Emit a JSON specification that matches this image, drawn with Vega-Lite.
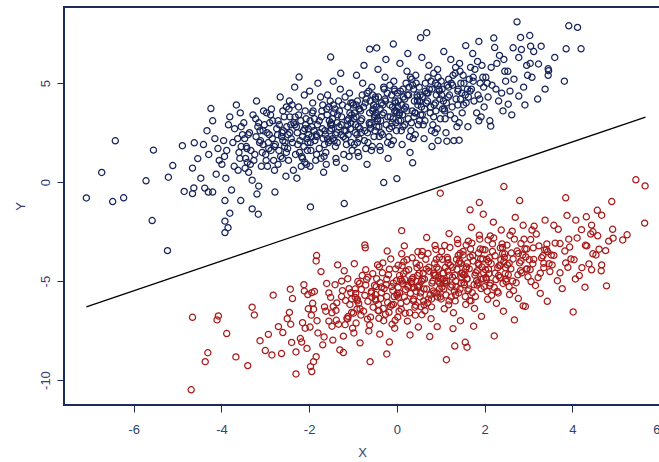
{
"$schema": "https://vega.github.io/schema/vega-lite/v6.json",
"width": 596,
"height": 398,
"autosize": "none",
"padding": {"left": 64, "top": 7, "right": 0, "bottom": 57},
"background": "white",
"datasets": {
"blue": [
{"x":-4.41,"y":1.9},{"x":-4.12,"y":0.4},{"x":-4.33,"y":2.6},{"x":-4.05,"y":1.1},{"x":-4.47,"y":0.2},{"x":-4.2,"y":3.1},{"x":-4.08,"y":1.7},{"x":-4.38,"y":-0.3},{"x":-4.15,"y":2.2},{"x":-4.29,"y":1.4},
{"x":-3.95,"y":2.1},{"x":-3.62,"y":0.6},{"x":-3.81,"y":3.3},{"x":-3.55,"y":1.8},{"x":-3.9,"y":0.2},{"x":-3.7,"y":2.7},{"x":-3.58,"y":1.2},{"x":-3.88,"y":1.6},{"x":-3.66,"y":3.9},{"x":-3.99,"y":0.9},{"x":-3.52,"y":2.4},{"x":-3.77,"y":-0.4},{"x":-3.6,"y":1.5},{"x":-3.84,"y":2.9},{"x":-3.71,"y":0.8},{"x":-3.93,"y":1.3},{"x":-3.57,"y":3.5},{"x":-3.74,"y":2.0},
{"x":-3.45,"y":1.2},{"x":-3.12,"y":2.6},{"x":-3.38,"y":0.5},{"x":-3.05,"y":1.9},{"x":-3.28,"y":3.4},{"x":-3.47,"y":2.2},{"x":-3.15,"y":-0.2},{"x":-3.33,"y":1.6},{"x":-3.02,"y":2.9},{"x":-3.41,"y":1.0},{"x":-3.2,"y":4.1},{"x":-3.09,"y":0.8},{"x":-3.36,"y":2.5},{"x":-3.24,"y":1.4},{"x":-3.49,"y":3.0},{"x":-3.11,"y":2.1},{"x":-3.3,"y":0.1},{"x":-3.04,"y":3.6},{"x":-3.43,"y":1.8},{"x":-3.17,"y":2.8},{"x":-3.26,"y":1.1},{"x":-3.39,"y":2.4},{"x":-3.07,"y":1.5},{"x":-3.22,"y":3.2},{"x":-3.46,"y":0.7},{"x":-3.13,"y":2.0},
{"x":-2.96,"y":2.5},{"x":-2.61,"y":1.2},{"x":-2.88,"y":3.4},{"x":-2.55,"y":2.0},{"x":-2.79,"y":0.6},{"x":-2.68,"y":2.9},{"x":-2.92,"y":1.7},{"x":-2.52,"y":3.8},{"x":-2.84,"y":2.2},{"x":-2.71,"y":0.9},{"x":-2.59,"y":2.6},{"x":-2.99,"y":1.4},{"x":-2.66,"y":4.3},{"x":-2.77,"y":1.9},{"x":-2.53,"y":0.3},{"x":-2.9,"y":3.0},{"x":-2.63,"y":2.3},{"x":-2.81,"y":1.1},{"x":-2.57,"y":3.3},{"x":-2.74,"y":2.7},{"x":-2.95,"y":0.8},{"x":-2.69,"y":1.6},{"x":-2.86,"y":3.7},{"x":-2.6,"y":2.1},{"x":-2.78,"y":-0.5},{"x":-2.51,"y":2.8},{"x":-2.93,"y":2.0},{"x":-2.65,"y":1.3},{"x":-2.83,"y":3.1},{"x":-2.56,"y":1.8},{"x":-2.72,"y":2.4},{"x":-2.97,"y":3.5},
{"x":-2.31,"y":1.4},{"x":-2.07,"y":3.2},{"x":-2.44,"y":2.5},{"x":-2.18,"y":0.8},{"x":-2.02,"y":2.7},{"x":-2.39,"y":3.9},{"x":-2.26,"y":1.9},{"x":-2.11,"y":4.4},{"x":-2.47,"y":1.1},{"x":-2.15,"y":2.3},{"x":-2.35,"y":3.0},{"x":-2.04,"y":1.6},{"x":-2.28,"y":0.2},{"x":-2.42,"y":2.9},{"x":-2.09,"y":3.6},{"x":-2.21,"y":2.1},{"x":-2.49,"y":1.7},{"x":-2.13,"y":2.6},{"x":-2.33,"y":4.8},{"x":-2.06,"y":0.9},{"x":-2.38,"y":2.0},{"x":-2.24,"y":3.4},{"x":-2.01,"y":2.4},{"x":-2.46,"y":3.7},{"x":-2.17,"y":1.3},{"x":-2.29,"y":2.8},{"x":-2.1,"y":1.0},{"x":-2.41,"y":2.2},{"x":-2.19,"y":3.1},{"x":-2.36,"y":0.6},{"x":-2.03,"y":2.0},{"x":-2.27,"y":2.5},{"x":-2.45,"y":4.1},{"x":-2.12,"y":1.8},{"x":-2.32,"y":3.3},{"x":-2.08,"y":2.9},{"x":-2.22,"y":1.5},{"x":-2.48,"y":2.4},
{"x":-1.58,"y":2.2},{"x":-1.93,"y":3.5},{"x":-1.66,"y":1.3},{"x":-1.81,"y":2.9},{"x":-1.52,"y":4.1},{"x":-1.97,"y":2.0},{"x":-1.72,"y":3.3},{"x":-1.61,"y":0.9},{"x":-1.89,"y":2.6},{"x":-1.55,"y":3.8},{"x":-1.77,"y":1.7},{"x":-1.99,"y":4.6},{"x":-1.63,"y":2.4},{"x":-1.85,"y":1.1},{"x":-1.54,"y":3.1},{"x":-1.7,"y":2.7},{"x":-1.91,"y":3.6},{"x":-1.67,"y":0.5},{"x":-1.83,"y":2.3},{"x":-1.51,"y":2.9},{"x":-1.96,"y":1.6},{"x":-1.74,"y":4.3},{"x":-1.59,"y":3.4},{"x":-1.87,"y":2.1},{"x":-1.65,"y":1.9},{"x":-1.8,"y":5.0},{"x":-1.53,"y":2.6},{"x":-1.94,"y":2.8},{"x":-1.69,"y":3.9},{"x":-1.62,"y":1.5},{"x":-1.88,"y":3.2},{"x":-1.56,"y":2.0},{"x":-1.76,"y":2.5},{"x":-1.98,"y":0.8},{"x":-1.6,"y":3.7},{"x":-1.84,"y":2.4},{"x":-1.73,"y":1.2},{"x":-1.5,"y":3.0},{"x":-1.92,"y":4.0},{"x":-1.68,"y":2.2},
{"x":-1.07,"y":3.5},{"x":-1.43,"y":2.1},{"x":-1.18,"y":4.3},{"x":-1.32,"y":2.8},{"x":-1.02,"y":1.6},{"x":-1.47,"y":3.2},{"x":-1.24,"y":3.9},{"x":-1.11,"y":2.4},{"x":-1.38,"y":1.0},{"x":-1.05,"y":3.0},{"x":-1.29,"y":4.7},{"x":-1.49,"y":2.7},{"x":-1.15,"y":1.9},{"x":-1.35,"y":3.4},{"x":-1.01,"y":4.0},{"x":-1.22,"y":2.3},{"x":-1.41,"y":3.7},{"x":-1.09,"y":1.3},{"x":-1.27,"y":2.9},{"x":-1.45,"y":5.1},{"x":-1.13,"y":3.1},{"x":-1.37,"y":2.5},{"x":-1.04,"y":2.0},{"x":-1.31,"y":3.6},{"x":-1.19,"y":0.7},{"x":-1.46,"y":2.2},{"x":-1.08,"y":4.5},{"x":-1.26,"y":3.3},{"x":-1.4,"y":1.8},{"x":-1.16,"y":2.6},{"x":-1.33,"y":4.1},{"x":-1.03,"y":3.4},{"x":-1.48,"y":2.9},{"x":-1.21,"y":1.4},{"x":-1.12,"y":3.8},{"x":-1.36,"y":2.0},{"x":-1.06,"y":2.7},{"x":-1.44,"y":3.5},{"x":-1.28,"y":5.5},{"x":-1.17,"y":2.2},{"x":-1.39,"y":1.2},{"x":-1.1,"y":3.2},
{"x":-0.53,"y":3.9},{"x":-0.91,"y":2.4},{"x":-0.64,"y":4.6},{"x":-0.82,"y":3.1},{"x":-0.56,"y":1.8},{"x":-0.97,"y":3.5},{"x":-0.7,"y":4.2},{"x":-0.6,"y":2.7},{"x":-0.87,"y":1.3},{"x":-0.51,"y":3.3},{"x":-0.78,"y":5.0},{"x":-0.94,"y":2.9},{"x":-0.66,"y":2.0},{"x":-0.85,"y":3.7},{"x":-0.55,"y":4.4},{"x":-0.73,"y":2.6},{"x":-0.99,"y":3.9},{"x":-0.58,"y":1.6},{"x":-0.8,"y":3.2},{"x":-0.92,"y":5.4},{"x":-0.62,"y":3.5},{"x":-0.88,"y":2.8},{"x":-0.52,"y":2.3},{"x":-0.76,"y":3.8},{"x":-0.68,"y":0.9},{"x":-0.95,"y":2.5},{"x":-0.57,"y":4.8},{"x":-0.83,"y":3.6},{"x":-0.9,"y":2.0},{"x":-0.63,"y":3.0},{"x":-0.79,"y":4.4},{"x":-0.54,"y":3.7},{"x":-0.98,"y":3.2},{"x":-0.71,"y":1.7},{"x":-0.61,"y":4.1},{"x":-0.86,"y":2.2},{"x":-0.59,"y":3.0},{"x":-0.93,"y":3.9},{"x":-0.75,"y":5.9},{"x":-0.67,"y":2.5},{"x":-0.89,"y":1.5},{"x":-0.5,"y":3.4},{"x":-0.72,"y":4.0},{"x":-0.84,"y":2.7},
{"x":-0.04,"y":4.1},{"x":-0.41,"y":2.8},{"x":-0.16,"y":4.9},{"x":-0.33,"y":3.4},{"x":-0.08,"y":2.1},{"x":-0.47,"y":3.8},{"x":-0.22,"y":4.5},{"x":-0.11,"y":3.0},{"x":-0.38,"y":1.6},{"x":-0.02,"y":3.6},{"x":-0.27,"y":5.3},{"x":-0.44,"y":3.2},{"x":-0.18,"y":2.3},{"x":-0.35,"y":4.0},{"x":-0.06,"y":4.7},{"x":-0.24,"y":2.9},{"x":-0.49,"y":4.2},{"x":-0.13,"y":1.9},{"x":-0.3,"y":3.5},{"x":-0.43,"y":5.7},{"x":-0.1,"y":3.8},{"x":-0.37,"y":3.1},{"x":-0.01,"y":2.6},{"x":-0.26,"y":4.1},{"x":-0.2,"y":1.2},{"x":-0.46,"y":2.8},{"x":-0.07,"y":5.1},{"x":-0.32,"y":3.9},{"x":-0.4,"y":2.3},{"x":-0.15,"y":3.3},{"x":-0.29,"y":4.7},{"x":-0.03,"y":4.0},{"x":-0.48,"y":3.5},{"x":-0.21,"y":2.0},{"x":-0.12,"y":4.4},{"x":-0.36,"y":2.5},{"x":-0.09,"y":3.2},{"x":-0.42,"y":4.3},{"x":-0.25,"y":6.2},{"x":-0.17,"y":2.7},{"x":-0.39,"y":1.8},{"x":-0.05,"y":3.6},
{"x":0.46,"y":4.4},{"x":0.09,"y":3.1},{"x":0.34,"y":5.2},{"x":0.17,"y":3.7},{"x":0.42,"y":2.4},{"x":0.03,"y":4.1},{"x":0.28,"y":4.8},{"x":0.39,"y":3.3},{"x":0.12,"y":1.9},{"x":0.48,"y":3.9},{"x":0.23,"y":5.6},{"x":0.06,"y":3.5},{"x":0.32,"y":2.6},{"x":0.15,"y":4.3},{"x":0.44,"y":5.0},{"x":0.26,"y":3.2},{"x":0.01,"y":4.5},{"x":0.37,"y":2.2},{"x":0.2,"y":3.8},{"x":0.07,"y":6.0},{"x":0.4,"y":4.1},{"x":0.13,"y":3.4},{"x":0.49,"y":2.9},{"x":0.24,"y":4.4},{"x":0.3,"y":1.5},{"x":0.04,"y":3.1},{"x":0.43,"y":5.4},{"x":0.18,"y":4.2},{"x":0.1,"y":2.6},{"x":0.35,"y":3.6},{"x":0.21,"y":5.0},{"x":0.47,"y":4.3},{"x":0.02,"y":3.8},{"x":0.29,"y":2.3},{"x":0.38,"y":4.7},{"x":0.14,"y":2.8},{"x":0.41,"y":3.5},{"x":0.08,"y":4.6},{"x":0.25,"y":6.5},{"x":0.33,"y":3.0},
{"x":0.96,"y":4.7},{"x":0.58,"y":3.4},{"x":0.84,"y":5.5},{"x":0.67,"y":4.0},{"x":0.92,"y":2.7},{"x":0.53,"y":4.4},{"x":0.78,"y":5.1},{"x":0.89,"y":3.6},{"x":0.62,"y":2.2},{"x":0.98,"y":4.2},{"x":0.73,"y":5.9},{"x":0.56,"y":3.8},{"x":0.82,"y":2.9},{"x":0.65,"y":4.6},{"x":0.94,"y":5.3},{"x":0.76,"y":3.5},{"x":0.51,"y":4.8},{"x":0.87,"y":2.5},{"x":0.7,"y":4.1},{"x":0.57,"y":6.3},{"x":0.9,"y":4.4},{"x":0.63,"y":3.7},{"x":0.99,"y":3.2},{"x":0.74,"y":4.7},{"x":0.8,"y":1.8},{"x":0.54,"y":3.4},{"x":0.93,"y":5.7},{"x":0.68,"y":4.5},{"x":0.6,"y":2.9},{"x":0.85,"y":3.9},{"x":0.71,"y":5.3},{"x":0.97,"y":4.6},{"x":0.52,"y":4.1},{"x":0.79,"y":2.6},{"x":0.88,"y":5.0},{"x":0.64,"y":3.1},
{"x":1.46,"y":5.0},{"x":1.08,"y":3.7},{"x":1.34,"y":5.8},{"x":1.17,"y":4.3},{"x":1.42,"y":3.0},{"x":1.03,"y":4.7},{"x":1.28,"y":5.4},{"x":1.39,"y":3.9},{"x":1.12,"y":2.5},{"x":1.48,"y":4.5},{"x":1.23,"y":6.2},{"x":1.06,"y":4.1},{"x":1.32,"y":3.2},{"x":1.15,"y":4.9},{"x":1.44,"y":5.6},{"x":1.26,"y":3.8},{"x":1.01,"y":5.1},{"x":1.37,"y":2.8},{"x":1.2,"y":4.4},{"x":1.07,"y":6.6},{"x":1.4,"y":4.7},{"x":1.13,"y":4.0},{"x":1.49,"y":3.5},{"x":1.24,"y":5.0},{"x":1.3,"y":2.1},{"x":1.04,"y":3.7},{"x":1.43,"y":6.0},{"x":1.18,"y":4.8},{"x":1.1,"y":3.2},{"x":1.35,"y":4.2},
{"x":1.96,"y":5.3},{"x":1.58,"y":4.0},{"x":1.84,"y":6.1},{"x":1.67,"y":4.6},{"x":1.92,"y":3.3},{"x":1.53,"y":5.0},{"x":1.78,"y":5.7},{"x":1.89,"y":4.2},{"x":1.62,"y":2.8},{"x":1.98,"y":4.8},{"x":1.73,"y":6.5},{"x":1.56,"y":4.4},{"x":1.82,"y":3.5},{"x":1.65,"y":5.2},{"x":1.94,"y":5.9},{"x":1.76,"y":4.1},{"x":1.51,"y":5.4},{"x":1.87,"y":3.1},{"x":1.7,"y":4.7},{"x":1.57,"y":6.9},{"x":1.9,"y":5.0},{"x":1.63,"y":4.3},{"x":1.99,"y":3.8},{"x":1.74,"y":5.3},
{"x":2.46,"y":5.6},{"x":2.08,"y":4.3},{"x":2.34,"y":6.4},{"x":2.17,"y":4.9},{"x":2.42,"y":3.6},{"x":2.03,"y":5.3},{"x":2.28,"y":6.0},{"x":2.39,"y":4.5},{"x":2.12,"y":3.1},{"x":2.48,"y":5.1},{"x":2.23,"y":6.8},{"x":2.06,"y":5.0},{"x":2.32,"y":4.1},{"x":2.15,"y":5.8},{"x":2.44,"y":6.2},{"x":2.26,"y":4.7},
{"x":2.96,"y":5.9},{"x":2.58,"y":4.6},{"x":2.84,"y":6.7},{"x":2.67,"y":5.2},{"x":2.92,"y":3.9},{"x":2.53,"y":5.6},{"x":2.78,"y":6.3},{"x":2.89,"y":4.8},{"x":2.62,"y":3.4},{"x":2.98,"y":5.4},
{"x":3.04,"y":6.0},{"x":3.38,"y":4.7},{"x":3.12,"y":6.6},{"x":3.45,"y":5.4},{"x":3.21,"y":4.2},{"x":3.08,"y":5.3},{"x":3.6,"y":6.3},{"x":3.82,"y":5.1},
{"x":-2.87,"y":1.6},{"x":-2.44,"y":3.3},{"x":-2.62,"y":2.5},{"x":-2.15,"y":1.2},{"x":-2.33,"y":2.9},{"x":-2.71,"y":3.1},{"x":-2.05,"y":2.2},{"x":-2.52,"y":1.5},{"x":-2.91,"y":2.4},{"x":-2.24,"y":3.8},
{"x":-1.94,"y":2.3},{"x":-1.71,"y":3.6},{"x":-1.52,"y":2.1},{"x":-1.83,"y":1.4},{"x":-1.36,"y":3.0},{"x":-1.64,"y":2.6},{"x":-1.45,"y":3.9},{"x":-1.98,"y":3.1},{"x":-1.27,"y":2.4},{"x":-1.58,"y":4.4},
{"x":-1.12,"y":2.9},{"x":-0.93,"y":3.3},{"x":-0.74,"y":2.1},{"x":-1.05,"y":4.0},{"x":-0.86,"y":3.7},{"x":-0.62,"y":2.9},{"x":-0.97,"y":1.9},{"x":-0.68,"y":4.5},{"x":-0.81,"y":2.5},{"x":-0.55,"y":3.6},
{"x":-0.44,"y":3.1},{"x":-0.27,"y":4.2},{"x":-0.12,"y":2.8},{"x":-0.38,"y":3.7},{"x":-0.21,"y":3.3},{"x":-0.05,"y":4.6},{"x":-0.33,"y":2.4},{"x":-0.16,"y":3.9},{"x":-0.49,"y":4.3},{"x":-0.02,"y":3.0},
{"x":0.11,"y":3.9},{"x":0.27,"y":4.4},{"x":0.42,"y":3.5},{"x":0.18,"y":2.9},{"x":0.36,"y":4.9},{"x":0.05,"y":3.4},{"x":0.47,"y":4.1},{"x":0.23,"y":3.6},{"x":0.31,"y":5.3},{"x":0.14,"y":4.7},
{"x":0.58,"y":4.3},{"x":0.77,"y":3.8},{"x":0.93,"y":4.9},{"x":0.65,"y":5.0},{"x":0.84,"y":3.3},{"x":1.02,"y":4.4},{"x":0.71,"y":4.5},{"x":1.18,"y":5.2},{"x":0.88,"y":4.0},{"x":1.09,"y":3.6},
{"x":1.27,"y":4.9},{"x":1.45,"y":4.2},{"x":1.33,"y":5.5},{"x":1.61,"y":4.7},{"x":1.52,"y":3.9},{"x":1.74,"y":5.1},{"x":1.22,"y":3.4},{"x":1.68,"y":5.8},{"x":1.85,"y":4.4},{"x":1.39,"y":4.6},
{"x":-3.21,"y":2.3},{"x":-3.42,"y":1.7},{"x":-3.05,"y":2.6},{"x":-3.63,"y":2.2},{"x":-3.34,"y":0.9},{"x":-2.98,"y":1.1},{"x":-3.15,"y":3.0},{"x":-3.55,"y":2.8},{"x":-2.79,"y":1.8},{"x":-2.6,"y":3.6},
{"x":-1.77,"y":3.1},{"x":-1.2,"y":2.6},{"x":-0.5,"y":2.6},{"x":0.0,"y":3.5},{"x":0.52,"y":3.1},{"x":-0.9,"y":4.1},{"x":-1.4,"y":2.4},{"x":-2.1,"y":2.7},{"x":0.8,"y":4.7},{"x":-0.3,"y":4.8},
{"x":-7.08,"y":-0.8},{"x":-6.73,"y":0.49},{"x":-6.48,"y":-0.98},{"x":-6.23,"y":-0.79},{"x":-6.42,"y":2.09},{"x":-5.58,"y":-1.94},{"x":-5.72,"y":0.07},{"x":-5.55,"y":1.62},{"x":-5.23,"y":-3.46},{"x":-5.21,"y":0.25},{"x":-5.11,"y":0.84},{"x":-4.89,"y":1.84},{"x":-4.85,"y":-0.47},{"x":-4.66,"y":-0.58},{"x":-4.63,"y":-0.29},{"x":-4.66,"y":0.71},{"x":-4.62,"y":1.99},{"x":-4.24,"y":3.72},{"x":-4.54,"y":1.19},{"x":-4.3,"y":-0.5},{"x":-4.2,"y":-0.5},{"x":-3.92,"y":-0.93},{"x":-3.81,"y":-1.57},{"x":-3.92,"y":-1.97},{"x":-3.85,"y":-2.3},{"x":-3.92,"y":-2.55},{"x":-3.56,"y":-0.93},{"x":-3.3,"y":-1.35},{"x":-3.16,"y":-1.62},{"x":-3.19,"y":-0.6},
{"x":2.74,"y":8.1},{"x":3.92,"y":7.9},{"x":4.12,"y":7.82},{"x":3.86,"y":6.74},{"x":4.2,"y":6.74},{"x":2.82,"y":7.31},{"x":3.03,"y":7.41},{"x":2.21,"y":7.28},{"x":1.87,"y":7.11},{"x":3.23,"y":5.97},{"x":3.45,"y":5.73},{"x":3.46,"y":5.63},{"x":3.29,"y":6.87},{"x":3.05,"y":6.87},{"x":2.65,"y":6.79},{"x":2.14,"y":2.83},{"x":1.42,"y":2.12},{"x":1.14,"y":2.07},{"x":2.54,"y":3.94},{"x":2.78,"y":4.35},{"x":0.68,"y":7.55},{"x":0.54,"y":7.3},{"x":-0.08,"y":6.98},{"x":-0.62,"y":6.72},{"x":-0.46,"y":6.78},{"x":-1.51,"y":6.32},{"x":-2.23,"y":5.31},{"x":-1.97,"y":-1.25},{"x":-1.2,"y":-1.08},{"x":-0.3,"y":-0.02},{"x":0.0,"y":0.18},{"x":0.36,"y":0.98},{"x":0.94,"y":2.1}
],
"red": [
{"x":-2.09,"y":-7.38},{"x":-2.38,"y":-5.88},{"x":-2.17,"y":-8.08},{"x":-2.45,"y":-6.58},{"x":-2.03,"y":-5.68},{"x":-2.3,"y":-8.58},{"x":-2.42,"y":-7.18},{"x":-2.12,"y":-5.18},
{"x":-1.55,"y":-7.02},{"x":-1.88,"y":-5.52},{"x":-1.69,"y":-8.22},{"x":-1.95,"y":-6.72},{"x":-1.6,"y":-5.12},{"x":-1.8,"y":-7.62},{"x":-1.92,"y":-6.12},{"x":-1.62,"y":-6.52},{"x":-1.84,"y":-8.82},{"x":-1.51,"y":-5.82},{"x":-1.98,"y":-7.32},{"x":-1.73,"y":-4.52},{"x":-1.9,"y":-6.42},{"x":-1.66,"y":-7.82},
{"x":-1.05,"y":-5.58},{"x":-1.38,"y":-6.98},{"x":-1.12,"y":-4.88},{"x":-1.45,"y":-6.28},{"x":-1.22,"y":-7.78},{"x":-1.03,"y":-6.58},{"x":-1.35,"y":-4.18},{"x":-1.17,"y":-5.98},{"x":-1.48,"y":-7.28},{"x":-1.09,"y":-5.38},{"x":-1.3,"y":-8.48},{"x":-1.41,"y":-5.18},{"x":-1.14,"y":-6.88},{"x":-1.26,"y":-5.78},{"x":-1.01,"y":-7.38},{"x":-1.39,"y":-6.48},{"x":-1.2,"y":-4.48},{"x":-1.46,"y":-7.98},{"x":-1.07,"y":-6.18},{"x":-1.33,"y":-7.18},{"x":-1.24,"y":-5.48},{"x":-1.11,"y":-6.78},
{"x":-0.54,"y":-6.32},{"x":-0.89,"y":-5.02},{"x":-0.62,"y":-7.22},{"x":-0.95,"y":-5.82},{"x":-0.71,"y":-4.42},{"x":-0.82,"y":-6.72},{"x":-0.58,"y":-5.52},{"x":-0.98,"y":-7.62},{"x":-0.66,"y":-6.02},{"x":-0.79,"y":-4.72},{"x":-0.91,"y":-6.42},{"x":-0.51,"y":-5.22},{"x":-0.84,"y":-8.12},{"x":-0.73,"y":-5.72},{"x":-0.97,"y":-4.12},{"x":-0.6,"y":-6.82},{"x":-0.87,"y":-6.12},{"x":-0.69,"y":-4.92},{"x":-0.93,"y":-7.12},{"x":-0.76,"y":-6.52},{"x":-0.55,"y":-4.62},{"x":-0.81,"y":-5.42},{"x":-0.64,"y":-7.52},{"x":-0.9,"y":-5.92},{"x":-0.72,"y":-3.32},{"x":-0.99,"y":-6.62},{"x":-0.57,"y":-5.82},{"x":-0.85,"y":-5.12},{"x":-0.67,"y":-6.92},{"x":-0.94,"y":-5.62},
{"x":-0.19,"y":-4.68},{"x":-0.43,"y":-6.48},{"x":-0.06,"y":-5.78},{"x":-0.32,"y":-4.08},{"x":-0.48,"y":-5.98},{"x":-0.11,"y":-7.18},{"x":-0.24,"y":-5.18},{"x":-0.39,"y":-7.68},{"x":-0.03,"y":-4.38},{"x":-0.35,"y":-5.58},{"x":-0.15,"y":-6.28},{"x":-0.46,"y":-4.88},{"x":-0.22,"y":-3.48},{"x":-0.08,"y":-6.18},{"x":-0.41,"y":-6.88},{"x":-0.29,"y":-5.38},{"x":-0.01,"y":-4.98},{"x":-0.37,"y":-5.88},{"x":-0.17,"y":-8.08},{"x":-0.44,"y":-4.18},{"x":-0.12,"y":-5.28},{"x":-0.26,"y":-6.68},{"x":-0.49,"y":-5.68},{"x":-0.04,"y":-6.98},{"x":-0.33,"y":-4.58},{"x":-0.21,"y":-6.08},{"x":-0.4,"y":-4.28},{"x":-0.09,"y":-5.48},{"x":-0.31,"y":-6.38},{"x":-0.14,"y":-3.88},{"x":-0.47,"y":-5.28},{"x":-0.23,"y":-5.78},{"x":-0.05,"y":-7.38},{"x":-0.38,"y":-5.08},{"x":-0.18,"y":-6.58},{"x":-0.42,"y":-6.18},
{"x":0.08,"y":-4.92},{"x":0.43,"y":-6.22},{"x":0.16,"y":-4.02},{"x":0.31,"y":-5.62},{"x":0.02,"y":-6.82},{"x":0.47,"y":-4.72},{"x":0.22,"y":-6.02},{"x":0.11,"y":-3.62},{"x":0.39,"y":-5.32},{"x":0.05,"y":-6.52},{"x":0.27,"y":-4.42},{"x":0.49,"y":-7.32},{"x":0.13,"y":-5.12},{"x":0.35,"y":-3.82},{"x":0.04,"y":-5.82},{"x":0.2,"y":-5.42},{"x":0.41,"y":-6.32},{"x":0.17,"y":-3.22},{"x":0.33,"y":-5.02},{"x":0.01,"y":-5.62},{"x":0.46,"y":-4.32},{"x":0.24,"y":-7.02},{"x":0.09,"y":-6.12},{"x":0.37,"y":-4.82},{"x":0.15,"y":-4.62},{"x":0.3,"y":-7.72},{"x":0.03,"y":-5.32},{"x":0.44,"y":-5.52},{"x":0.19,"y":-6.62},{"x":0.12,"y":-4.22},{"x":0.38,"y":-5.92},{"x":0.06,"y":-4.72},{"x":0.26,"y":-5.22},{"x":0.48,"y":-3.52},{"x":0.1,"y":-6.42},{"x":0.34,"y":-5.12},{"x":0.23,"y":-3.92},{"x":0.0,"y":-5.72},{"x":0.42,"y":-6.72},{"x":0.18,"y":-4.92},
{"x":0.53,"y":-5.8},{"x":0.91,"y":-4.3},{"x":0.64,"y":-6.5},{"x":0.82,"y":-5.0},{"x":0.56,"y":-3.7},{"x":0.97,"y":-5.4},{"x":0.7,"y":-6.1},{"x":0.6,"y":-4.6},{"x":0.87,"y":-3.2},{"x":0.51,"y":-5.2},{"x":0.78,"y":-6.9},{"x":0.94,"y":-4.8},{"x":0.66,"y":-3.9},{"x":0.85,"y":-5.6},{"x":0.55,"y":-6.3},{"x":0.73,"y":-4.5},{"x":0.99,"y":-5.8},{"x":0.58,"y":-3.5},{"x":0.8,"y":-5.1},{"x":0.92,"y":-7.3},{"x":0.62,"y":-5.4},{"x":0.88,"y":-4.7},{"x":0.52,"y":-4.2},{"x":0.76,"y":-5.7},{"x":0.68,"y":-2.8},{"x":0.95,"y":-4.4},{"x":0.57,"y":-6.7},{"x":0.83,"y":-5.5},{"x":0.9,"y":-3.9},{"x":0.63,"y":-4.9},{"x":0.79,"y":-6.3},{"x":0.54,"y":-5.6},{"x":0.98,"y":-5.1},{"x":0.71,"y":-3.6},{"x":0.61,"y":-6.0},{"x":0.86,"y":-4.1},{"x":0.59,"y":-4.9},{"x":0.93,"y":-5.8},{"x":0.75,"y":-7.8},{"x":0.67,"y":-4.4},{"x":0.89,"y":-3.4},{"x":0.5,"y":-5.3},{"x":0.72,"y":-5.9},{"x":0.84,"y":-4.6},
{"x":1.07,"y":-5.4},{"x":1.43,"y":-4.0},{"x":1.18,"y":-6.2},{"x":1.32,"y":-4.7},{"x":1.02,"y":-3.5},{"x":1.47,"y":-5.1},{"x":1.24,"y":-5.8},{"x":1.11,"y":-4.3},{"x":1.38,"y":-2.9},{"x":1.05,"y":-4.9},{"x":1.29,"y":-6.6},{"x":1.49,"y":-4.6},{"x":1.15,"y":-3.8},{"x":1.35,"y":-5.3},{"x":1.01,"y":-5.9},{"x":1.22,"y":-4.2},{"x":1.41,"y":-5.6},{"x":1.09,"y":-3.2},{"x":1.27,"y":-4.8},{"x":1.45,"y":-7.0},{"x":1.13,"y":-5.0},{"x":1.37,"y":-4.4},{"x":1.04,"y":-3.9},{"x":1.31,"y":-5.5},{"x":1.19,"y":-2.6},{"x":1.46,"y":-4.1},{"x":1.08,"y":-6.4},{"x":1.26,"y":-5.2},{"x":1.4,"y":-3.7},{"x":1.16,"y":-4.5},{"x":1.33,"y":-6.0},{"x":1.03,"y":-5.3},{"x":1.48,"y":-4.8},{"x":1.21,"y":-3.3},{"x":1.12,"y":-5.7},{"x":1.36,"y":-3.9},{"x":1.06,"y":-4.6},{"x":1.44,"y":-5.4},{"x":1.28,"y":-7.4},{"x":1.17,"y":-4.1},{"x":1.39,"y":-3.1},{"x":1.1,"y":-5.1},{"x":1.2,"y":-4.7},{"x":1.34,"y":-5.0},
{"x":1.54,"y":-5.18},{"x":1.91,"y":-3.88},{"x":1.66,"y":-5.98},{"x":1.83,"y":-4.48},{"x":1.58,"y":-3.18},{"x":1.97,"y":-4.88},{"x":1.72,"y":-5.58},{"x":1.61,"y":-4.08},{"x":1.88,"y":-2.68},{"x":1.52,"y":-4.68},{"x":1.77,"y":-6.38},{"x":1.94,"y":-4.28},{"x":1.68,"y":-3.38},{"x":1.85,"y":-5.08},{"x":1.56,"y":-5.78},{"x":1.74,"y":-3.98},{"x":1.99,"y":-5.28},{"x":1.63,"y":-2.98},{"x":1.8,"y":-4.58},{"x":1.93,"y":-6.78},{"x":1.6,"y":-4.88},{"x":1.87,"y":-4.18},{"x":1.51,"y":-3.68},{"x":1.76,"y":-5.18},{"x":1.7,"y":-2.28},{"x":1.96,"y":-3.88},{"x":1.57,"y":-6.18},{"x":1.82,"y":-4.98},{"x":1.9,"y":-3.38},{"x":1.65,"y":-4.38},{"x":1.79,"y":-5.78},{"x":1.53,"y":-5.08},{"x":1.98,"y":-4.58},{"x":1.71,"y":-3.08},{"x":1.62,"y":-5.48},{"x":1.86,"y":-3.58},{"x":1.59,"y":-4.28},{"x":1.92,"y":-5.38},{"x":1.75,"y":-7.28},{"x":1.67,"y":-3.78},{"x":1.89,"y":-2.88},{"x":1.55,"y":-4.68},
{"x":2.04,"y":-4.92},{"x":2.41,"y":-3.62},{"x":2.16,"y":-5.72},{"x":2.33,"y":-4.22},{"x":2.08,"y":-2.92},{"x":2.47,"y":-4.62},{"x":2.22,"y":-5.32},{"x":2.11,"y":-3.82},{"x":2.38,"y":-2.42},{"x":2.02,"y":-4.42},{"x":2.27,"y":-6.12},{"x":2.44,"y":-4.02},{"x":2.18,"y":-3.12},{"x":2.35,"y":-4.82},{"x":2.06,"y":-5.52},{"x":2.24,"y":-3.72},{"x":2.49,"y":-5.02},{"x":2.13,"y":-2.72},{"x":2.3,"y":-4.32},{"x":2.43,"y":-6.52},{"x":2.1,"y":-4.62},{"x":2.37,"y":-3.92},{"x":2.01,"y":-3.42},{"x":2.26,"y":-4.92},{"x":2.2,"y":-2.02},{"x":2.46,"y":-3.62},{"x":2.07,"y":-5.92},{"x":2.32,"y":-4.72},{"x":2.4,"y":-3.12},{"x":2.15,"y":-4.12},{"x":2.29,"y":-5.52},{"x":2.03,"y":-4.82},{"x":2.48,"y":-4.32},{"x":2.21,"y":-2.82},{"x":2.12,"y":-5.22},{"x":2.36,"y":-3.32},{"x":2.09,"y":-4.02},{"x":2.42,"y":-5.12},
{"x":2.54,"y":-4.68},{"x":2.92,"y":-3.38},{"x":2.66,"y":-5.48},{"x":2.83,"y":-3.98},{"x":2.58,"y":-2.68},{"x":2.97,"y":-4.38},{"x":2.72,"y":-5.08},{"x":2.61,"y":-3.58},{"x":2.88,"y":-2.18},{"x":2.52,"y":-4.18},{"x":2.77,"y":-5.88},{"x":2.94,"y":-3.78},{"x":2.68,"y":-2.88},{"x":2.85,"y":-4.58},{"x":2.56,"y":-5.28},{"x":2.74,"y":-3.48},{"x":2.99,"y":-4.78},{"x":2.63,"y":-2.48},{"x":2.8,"y":-4.08},{"x":2.93,"y":-6.28},{"x":2.6,"y":-4.38},{"x":2.87,"y":-3.68},{"x":2.51,"y":-3.18},{"x":2.76,"y":-4.68},{"x":2.7,"y":-1.78},{"x":2.96,"y":-3.38},{"x":2.57,"y":-5.68},{"x":2.82,"y":-4.48},{"x":2.9,"y":-2.88},{"x":2.65,"y":-3.88},
{"x":3.04,"y":-4.42},{"x":3.42,"y":-3.12},{"x":3.16,"y":-5.22},{"x":3.33,"y":-3.72},{"x":3.08,"y":-2.42},{"x":3.47,"y":-4.12},{"x":3.22,"y":-4.82},{"x":3.11,"y":-3.32},{"x":3.38,"y":-1.92},{"x":3.02,"y":-3.92},{"x":3.27,"y":-5.62},{"x":3.44,"y":-3.52},{"x":3.18,"y":-2.62},{"x":3.35,"y":-4.32},{"x":3.06,"y":-5.02},{"x":3.24,"y":-3.22},{"x":3.49,"y":-4.52},{"x":3.13,"y":-2.22},{"x":3.3,"y":-3.82},{"x":3.43,"y":-6.02},{"x":3.1,"y":-4.12},{"x":3.37,"y":-3.42},
{"x":3.54,"y":-4.18},{"x":3.92,"y":-2.88},{"x":3.66,"y":-4.98},{"x":3.83,"y":-3.48},{"x":3.58,"y":-2.18},{"x":3.97,"y":-3.88},{"x":3.72,"y":-4.58},{"x":3.61,"y":-3.08},{"x":3.88,"y":-1.68},{"x":3.52,"y":-3.68},{"x":3.77,"y":-5.38},{"x":3.94,"y":-3.28},{"x":3.68,"y":-2.38},{"x":3.85,"y":-4.08},
{"x":4.04,"y":-3.92},{"x":4.42,"y":-2.62},{"x":4.16,"y":-4.72},{"x":4.33,"y":-3.22},{"x":4.08,"y":-1.92},{"x":4.47,"y":-3.62},{"x":4.22,"y":-4.32},{"x":4.11,"y":-2.82},
{"x":4.54,"y":-3.68},{"x":4.92,"y":-2.38},{"x":4.66,"y":-4.48},{"x":4.83,"y":-2.98},
{"x":-1.37,"y":-6.1},{"x":-1.12,"y":-6.9},{"x":-0.95,"y":-5.4},{"x":-1.26,"y":-5.0},{"x":-0.84,"y":-6.4},{"x":-1.48,"y":-6.6},{"x":-1.03,"y":-5.9},{"x":-0.71,"y":-5.2},{"x":-1.18,"y":-7.2},{"x":-0.9,"y":-6.0},
{"x":-0.58,"y":-5.6},{"x":-0.41,"y":-6.5},{"x":-0.23,"y":-4.9},{"x":-0.66,"y":-4.8},{"x":-0.35,"y":-5.3},{"x":-0.12,"y":-6.2},{"x":-0.49,"y":-5.9},{"x":-0.08,"y":-5.1},{"x":-0.3,"y":-7.0},{"x":-0.17,"y":-4.4},
{"x":0.06,"y":-5.6},{"x":0.21,"y":-4.5},{"x":0.38,"y":-6.0},{"x":0.12,"y":-5.0},{"x":0.47,"y":-5.3},{"x":0.29,"y":-6.6},{"x":0.03,"y":-4.2},{"x":0.34,"y":-4.9},{"x":0.17,"y":-5.8},{"x":0.44,"y":-4.1},
{"x":0.56,"y":-5.0},{"x":0.73,"y":-4.3},{"x":0.91,"y":-5.6},{"x":0.62,"y":-6.2},{"x":0.85,"y":-4.7},{"x":0.97,"y":-3.8},{"x":0.68,"y":-5.4},{"x":0.79,"y":-5.9},{"x":0.51,"y":-4.6},{"x":0.94,"y":-5.0},
{"x":1.05,"y":-4.6},{"x":1.23,"y":-5.3},{"x":1.41,"y":-4.1},{"x":1.16,"y":-3.9},{"x":1.34,"y":-5.7},{"x":1.48,"y":-4.6},{"x":1.09,"y":-5.0},{"x":1.27,"y":-4.3},{"x":1.44,"y":-3.6},{"x":1.19,"y":-6.0},
{"x":1.57,"y":-4.4},{"x":1.73,"y":-3.7},{"x":1.92,"y":-4.9},{"x":1.64,"y":-5.4},{"x":1.85,"y":-4.1},{"x":1.51,"y":-3.5},{"x":1.78,"y":-4.7},{"x":1.96,"y":-3.4},{"x":1.69,"y":-6.0},{"x":1.83,"y":-5.2},
{"x":2.05,"y":-3.9},{"x":2.24,"y":-4.6},{"x":2.41,"y":-3.3},{"x":2.13,"y":-5.1},{"x":2.36,"y":-4.2},{"x":2.49,"y":-4.9},{"x":2.18,"y":-3.5},{"x":2.31,"y":-5.6},{"x":2.09,"y":-4.4},{"x":2.45,"y":-3.8},
{"x":2.56,"y":-4.1},{"x":2.77,"y":-3.6},{"x":2.95,"y":-4.4},{"x":2.64,"y":-5.0},{"x":2.83,"y":-3.1},{"x":3.12,"y":-3.9},{"x":3.27,"y":-4.6},{"x":3.41,"y":-3.4},{"x":3.05,"y":-2.9},{"x":3.35,"y":-4.1},
{"x":-1.65,"y":-6.3},{"x":-1.82,"y":-7.0},{"x":-2.02,"y":-6.4},{"x":-1.55,"y":-5.6},{"x":3.58,"y":-3.7},{"x":3.72,"y":-3.1},{"x":3.9,"y":-4.3},{"x":0.25,"y":-5.3},{"x":1.0,"y":-4.9},{"x":1.6,"y":-4.9},
{"x":-4.69,"y":-10.49},{"x":-4.66,"y":-6.83},{"x":-4.37,"y":-9.07},{"x":-4.31,"y":-8.62},{"x":-4.1,"y":-6.96},{"x":-4.07,"y":-6.76},{"x":-3.88,"y":-7.65},{"x":-3.67,"y":-8.83},{"x":-3.4,"y":-9.27},{"x":-3.3,"y":-6.32},{"x":-3.25,"y":-6.71},{"x":-3.12,"y":-8.01},{"x":-3.0,"y":-8.51},{"x":-2.85,"y":-8.73},{"x":-2.93,"y":-7.69},{"x":-2.82,"y":-5.71},{"x":-2.63,"y":-8.66},{"x":-2.43,"y":-5.41},{"x":-2.3,"y":-9.69},{"x":-1.94,"y":-9.57},{"x":-1.97,"y":-9.32},{"x":-1.9,"y":-9.07},{"x":-2.11,"y":-5.5},{"x":-1.94,"y":-5.58},{"x":-1.83,"y":-3.71},{"x":-1.84,"y":-3.98},{"x":-0.73,"y":-3.17},{"x":2.44,"y":-0.22},{"x":0.99,"y":-0.56},{"x":2.8,"y":-0.93},{"x":1.88,"y":-1.03},{"x":1.67,"y":-1.4},{"x":1.97,"y":-1.62},{"x":0.11,"y":-2.45},{"x":-0.61,"y":-9.07},{"x":-0.23,"y":-8.68},{"x":1.13,"y":-8.97},{"x":1.56,"y":-8.09},{"x":1.6,"y":-8.34},{"x":1.32,"y":-8.28},{"x":2.22,"y":-7.77},{"x":2.68,"y":-6.96},{"x":2.88,"y":-6.25},{"x":5.45,"y":0.12},{"x":5.66,"y":-0.19},{"x":5.65,"y":-2.07},{"x":4.9,"y":-0.98},{"x":5.25,"y":-2.66},{"x":5.15,"y":-2.92},{"x":4.93,"y":-2.83},{"x":4.78,"y":-5.24},{"x":4.02,"y":-6.56},{"x":4.29,"y":-5.31},{"x":4.07,"y":-4.89},{"x":4.67,"y":-4.18},{"x":4.76,"y":-3.46},{"x":4.61,"y":-3.39},{"x":4.57,"y":-1.42},{"x":4.67,"y":-1.67},{"x":4.32,"y":-1.75},{"x":4.21,"y":-2.4},{"x":4.44,"y":-2.17},{"x":4.47,"y":-2.51},{"x":4.58,"y":-2.71},{"x":4.38,"y":-4.13},{"x":4.44,"y":-4.43},{"x":4.3,"y":-3.19},{"x":3.85,"y":-0.79},{"x":-1.22,"y":-8.61},{"x":-2.7,"y":-7.3},{"x":-2.5,"y":-6.9},{"x":-2.2,"y":-7.9},{"x":-2.6,"y":-7.6},{"x":-2.4,"y":-8.1},{"x":-2.05,"y":-8.4},{"x":-2.15,"y":-7.1}
],
"line": [{"x":-7.08,"y":-6.3},{"x":5.67,"y":3.29}]
},
"encoding": {
"x": {"field":"x","type":"quantitative","title":"X","scale":{"domain":[-7.59,6.0],"nice":false,"zero":false},"axis":{"values":[-6,-4,-2,0,2,4,6],"labelExpr":"datum.value + ''","labelPadding":11,"titlePadding":10}},
"y": {"field":"y","type":"quantitative","title":"Y","scale":{"domain":[-11.26,8.85],"nice":false,"zero":false},"axis":{"values":[-10,-5,0,5],"labelExpr":"datum.value + ''","labelAngle":-90,"labelAlign":"center","labelBaseline":"bottom","labelPadding":5,"titlePadding":12}}
},
"layer": [
{"data":{"name":"blue"},"mark":{"type":"point","shape":"circle","filled":false,"color":"#17245a","size":38,"strokeWidth":1.25,"opacity":1,"clip":true}},
{"data":{"name":"red"},"mark":{"type":"point","shape":"circle","filled":false,"color":"#a81a1a","size":38,"strokeWidth":1.25,"opacity":1,"clip":true}},
{"data":{"name":"line"},"mark":{"type":"line","color":"#000000","strokeWidth":1.3},"encoding":{}}
],
"config": {
"view": {"stroke":"#1c2b5a","strokeWidth":2},
"axis": {"domain":false,"grid":false,"tickColor":"#1c2b5a","tickSize":7,"tickWidth":1,"labelFont":"Liberation Sans","labelFontSize":13,"labelColor":"#33426e","titleFont":"Liberation Sans","titleFontSize":13,"titleFontWeight":"normal","titleColor":"#33426e"}
}
}
